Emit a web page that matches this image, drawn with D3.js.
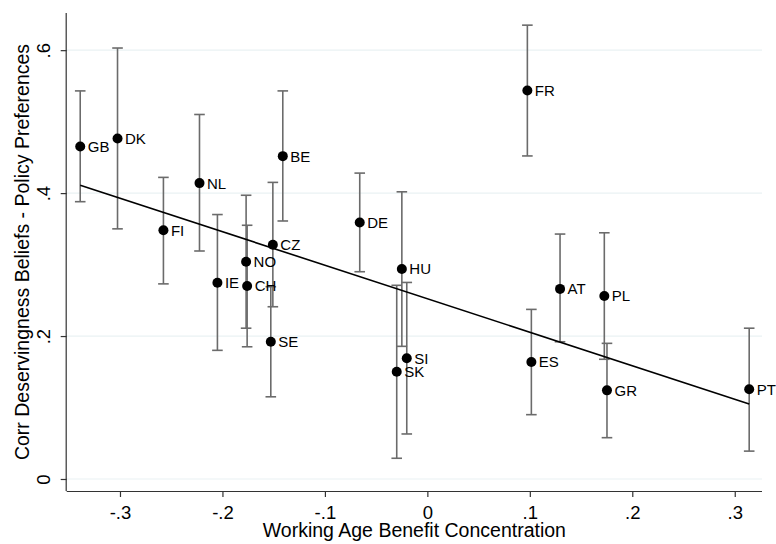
<!DOCTYPE html>
<html>
<head>
<meta charset="utf-8">
<script src="https://cdn.jsdelivr.net/npm/d3@7"></script>
<style>
  html, body { margin: 0; padding: 0; background: #fff; }
  svg { display: block; }
  text { font-family: "Liberation Sans", Arial, Helvetica, sans-serif; }
</style>
</head>
<body>
<svg id="chart" width="776" height="544"></svg>
<script>
// ---- data ----
const countries = ["GB","DK","FI","NL","IE","NO","CH","CZ","BE","SE","DE","HU","SK","SI","FR","AT","PL","GR","ES","PT"];
const xValues   = [-0.3388,-0.3024,-0.2576,-0.2224,-0.2049,-0.1769,-0.1759,-0.1508,-0.1411,-0.1528,-0.0660,-0.0249,-0.0299,-0.0201,0.0976,0.1295,0.1727,0.1753,0.1015,0.3141];
const yValues   = [0.4653,0.4765,0.3480,0.4140,0.2746,0.3040,0.2700,0.3277,0.4517,0.1920,0.3590,0.2937,0.1500,0.1690,0.5436,0.2660,0.2560,0.1240,0.1636,0.1255];
const ciLow     = [0.388,0.350,0.273,0.319,0.180,0.211,0.185,0.241,0.361,0.115,0.290,0.1856,0.029,0.063,0.452,0.192,0.1675,0.0578,0.090,0.039];
const ciHigh    = [0.543,0.603,0.422,0.510,0.370,0.397,0.355,0.415,0.543,0.269,0.428,0.4018,0.271,0.275,0.635,0.3427,0.3445,0.1898,0.2373,0.211];
const fitX      = [-0.3388, 0.3141];
const fitY      = [0.411, 0.105];
const xTicks    = [-0.3,-0.2,-0.1,0,0.1,0.2,0.3];
const xTickLabels = ["-.3","-.2","-.1","0",".1",".2",".3"];
const yTicks    = [0,0.2,0.4,0.6];
const yTickLabels = ["0",".2",".4",".6"];
const xTitle = "Working Age Benefit Concentration";
const yTitle = "Corr Deservingness Beliefs - Policy Preferences";

// ---- layout ----
const svg = d3.select("#chart");
const pLeft = 66.7, pRight = 762, pTop = 13, pBottom = 491;
const x = d3.scaleLinear().domain([-0.352, 0.3266]).range([pLeft, pRight]);
const y = d3.scaleLinear().domain([-0.0168, 0.652]).range([pBottom, pTop]);

// grid lines
svg.append("g").selectAll("line").data(yTicks).join("line")
  .attr("x1", pLeft).attr("x2", pRight)
  .attr("y1", d => y(d)).attr("y2", d => y(d))
  .attr("stroke", "#eaf2f3").attr("stroke-width", 1.2);

// x axis
const xAxis = d3.axisBottom(x).tickValues(xTicks)
  .tickFormat((d, i) => xTickLabels[i]).tickSize(6).tickSizeOuter(0).tickPadding(9);
const gx = svg.append("g").attr("transform", `translate(0,${pBottom})`).call(xAxis);
gx.select(".domain").attr("stroke", "#333").attr("stroke-width", 1.2)
  .attr("d", `M${pLeft},0.5H${pRight}`);
gx.selectAll(".tick line").attr("stroke", "#333").attr("stroke-width", 1.2);
gx.selectAll(".tick text").attr("font-size", 18.5).attr("fill", "#000")
  .attr("font-family", "Liberation Sans, Arial, sans-serif");

// y axis
const yAxis = d3.axisLeft(y).tickValues(yTicks)
  .tickFormat((d, i) => yTickLabels[i]).tickSize(6).tickSizeOuter(0).tickPadding(6);
const gy = svg.append("g").attr("transform", `translate(${pLeft},0)`).call(yAxis);
gy.select(".domain").attr("stroke", "#333").attr("stroke-width", 1.2)
  .attr("d", `M-0.5,${pTop}V${pBottom}`);
gy.selectAll(".tick line").attr("stroke", "#333").attr("stroke-width", 1.2);
gy.selectAll(".tick text").attr("font-size", 18.5).attr("fill", "#000")
  .attr("font-family", "Liberation Sans, Arial, sans-serif")
  .attr("x", null).attr("dy", null)
  .attr("text-anchor", "middle")
  .attr("transform", "translate(-16.5,0) rotate(-90)");

// titles
svg.append("text").attr("x", (pLeft + pRight) / 2).attr("y", 536.5)
  .attr("text-anchor", "middle").attr("font-size", 19.5).attr("fill", "#000")
  .text(xTitle);
svg.append("text")
  .attr("transform", `translate(28.5,${(pTop + pBottom) / 2}) rotate(-90)`)
  .attr("text-anchor", "middle").attr("font-size", 19.5).attr("fill", "#000")
  .text(yTitle);

// error bars
const idx = d3.range(countries.length);
const eb = svg.append("g").attr("stroke", "#6b6b6b").attr("stroke-width", 1.6).attr("fill", "none");
eb.selectAll("line.v").data(idx).join("line").attr("class", "v")
  .attr("x1", i => x(xValues[i])).attr("x2", i => x(xValues[i]))
  .attr("y1", i => y(ciLow[i])).attr("y2", i => y(ciHigh[i]));
eb.selectAll("line.lo").data(idx).join("line").attr("class", "lo")
  .attr("x1", i => x(xValues[i]) - 5.3).attr("x2", i => x(xValues[i]) + 5.3)
  .attr("y1", i => y(ciLow[i])).attr("y2", i => y(ciLow[i]));
eb.selectAll("line.hi").data(idx).join("line").attr("class", "hi")
  .attr("x1", i => x(xValues[i]) - 5.3).attr("x2", i => x(xValues[i]) + 5.3)
  .attr("y1", i => y(ciHigh[i])).attr("y2", i => y(ciHigh[i]));

// fit line
svg.append("line")
  .attr("x1", x(fitX[0])).attr("y1", y(fitY[0]))
  .attr("x2", x(fitX[1])).attr("y2", y(fitY[1]))
  .attr("stroke", "#000").attr("stroke-width", 1.6);

// points
svg.append("g").selectAll("circle").data(idx).join("circle")
  .attr("cx", i => x(xValues[i])).attr("cy", i => y(yValues[i]))
  .attr("r", 5).attr("fill", "#000");

// labels
svg.append("g").selectAll("text").data(idx).join("text")
  .attr("x", i => x(xValues[i]) + 7.5).attr("y", i => y(yValues[i]))
  .attr("dy", "0.36em").attr("font-size", 15).attr("fill", "#000")
  .text(i => countries[i]);
</script>
</body>
</html>
